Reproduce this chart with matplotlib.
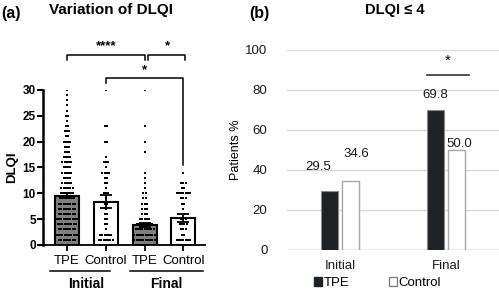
import numpy as np
import matplotlib.pyplot as plt
from matplotlib.patches import Patch

plt.rcParams['font.family'] = ['Liberation Sans', 'DejaVu Sans']

# ---- panel (a) data ----
groups = ['TPE', 'Control', 'TPE', 'Control']
periods = ['Initial', 'Final']
dlqi_mean = [9.5, 8.4, 3.9, 5.2]
dlqi_sem = [0.5, 1.2, 0.35, 0.75]
scores = np.arange(31)
# number of patients at each DLQI score 0..30
tpe_init = [2, 8, 11, 8, 9, 10, 8, 8, 8, 7, 6, 6, 5, 4, 5, 4, 5, 4, 3, 3,
            4, 2, 3, 2, 1, 2, 1, 1, 1, 1, 1]
ctrl_init = [6, 7, 6, 1, 2, 2, 2, 1, 2, 1, 3, 1, 2, 2, 4, 1, 3, 1, 0, 0,
             2, 0, 0, 2, 0, 0, 0, 0, 0, 0, 1]
tpe_final = [4, 10, 10, 9, 8, 5, 3, 3, 3, 2, 2, 1, 1, 1, 1, 0, 0, 0, 1, 0,
             1, 0, 0, 1, 0, 0, 0, 0, 0, 0, 1]
ctrl_final = [4, 7, 2, 3, 4, 3, 2, 1, 2, 3, 7, 2, 3, 0, 1, 0, 0, 0, 0, 0,
              0, 0, 0, 0, 0, 0, 0, 0, 0, 0, 0]
counts = [tpe_init, ctrl_init, tpe_final, ctrl_final]
bar_colors = ['#7f7f7f', 'white', '#7f7f7f', 'white']

# ---- panel (b) data ----
categories = ['Initial', 'Final']
tpe_pct = [29.5, 69.8]
ctrl_pct = [34.6, 50.0]

fig = plt.figure(figsize=(4.99, 2.92), dpi=100)

# panel (a)
ax = fig.add_axes([0.086, 0.161, 0.325, 0.531])
x = np.arange(len(groups))
ax.bar(x, dlqi_mean, width=0.62, color=bar_colors, edgecolor='black', linewidth=1.5, zorder=1)
dx = 0.058
for i, cnt in enumerate(counts):
    for s, n in zip(scores, cnt):
        if n == 0:
            continue
        xs = i + (np.arange(n) - (n - 1) / 2) * dx
        ax.plot(xs, [s] * n, 's', color='black', markersize=1.7, markeredgewidth=0, zorder=2)
ax.errorbar(x, dlqi_mean, yerr=dlqi_sem, fmt='none', ecolor='black', elinewidth=1.3,
            capsize=4, capthick=1.3, zorder=3)
ax.set_xlim(-0.62, 3.56)
ax.set_ylim(0, 30)
ax.set_yticks([0, 5, 10, 15, 20, 25, 30])
ax.set_xticks(x)
ax.set_xticklabels(groups, fontsize=9.5)
ax.tick_params(axis='y', labelsize=8.5, width=1.5, length=4, pad=1)
ax.tick_params(axis='x', width=1.3, length=4, pad=3)
for lab in ax.get_yticklabels():
    lab.set_fontweight('bold')
for sp in ['top', 'right']:
    ax.spines[sp].set_visible(False)
ax.spines['left'].set_linewidth(1.8)
ax.spines['bottom'].set_linewidth(1.3)
ax.set_ylabel('DLQI', fontsize=9.5, fontweight='bold', labelpad=3)

# significance brackets
lk = dict(color='black', lw=1.1, clip_on=False)
ax.plot([0, 0, 2, 2], [35.8, 36.8, 36.8, 35.8], **lk)
ax.text(1, 37.3, '****', ha='center', va='bottom', fontsize=9.5, fontweight='bold')
ax.plot([2.1, 2.1, 3.05, 3.05], [35.8, 36.8, 36.8, 35.8], **lk)
ax.text(2.58, 37.3, '*', ha='center', va='bottom', fontsize=9.5, fontweight='bold')
ax.plot([1, 1, 3, 3], [31.3, 32.3, 32.3, 15.5], **lk)
ax.text(2, 32.7, '*', ha='center', va='bottom', fontsize=9.5, fontweight='bold')

# group underlines
ax.plot([-0.45, 1.12], [-5.0, -5.0], **lk)
ax.plot([1.62, 3.5], [-5.0, -5.0], **lk)
ax.text(0.49, -7.6, periods[0], ha='center', va='center', fontsize=10, fontweight='bold')
ax.text(2.55, -7.6, periods[1], ha='center', va='center', fontsize=10, fontweight='bold')

fig.text(0.002, 0.955, '(a)', fontsize=11.5, fontweight='bold', va='center')
fig.text(0.222, 0.965, 'Variation of DLQI', fontsize=11, fontweight='bold', ha='center', va='center')

# panel (b)
bx = fig.add_axes([0.575, 0.144, 0.425, 0.685])
xc = np.arange(len(categories))
w = 0.16
b1 = bx.bar(xc - 0.103, tpe_pct, width=w, color='#1e2225', edgecolor='#8a8a8a', linewidth=0.8, zorder=2)
b2 = bx.bar(xc + 0.103, ctrl_pct, width=w, color='white', edgecolor='#a6a6a6', linewidth=1.0, zorder=2)
lab_off = [(-8, 13), (4, 15), (0, 7), (2, 0)]
bars = list(b1) + list(b2)
vals = tpe_pct + ctrl_pct
order = [0, 2, 1, 3]
for k, (rect, v) in enumerate(zip(bars, vals)):
    ox, oy = lab_off[order[k]]
    bx.annotate(f'{v:.1f}', (rect.get_x() + rect.get_width() / 2, v), xytext=(ox, oy),
                textcoords='offset points', ha='center', va='bottom', fontsize=9.5, color='#1a1a1a')
bx.set_xlim(-0.5, 1.5)
bx.set_ylim(0, 100)
bx.set_yticks([0, 20, 40, 60, 80, 100])
bx.set_xticks(xc)
bx.set_xticklabels(categories, fontsize=9.5)
bx.tick_params(axis='both', length=0, labelsize=9.5, colors='#1a1a1a')
bx.tick_params(axis='y', pad=14)
bx.tick_params(axis='x', pad=7)
bx.grid(axis='y', color='#d9d9d9', lw=1, zorder=0)
bx.set_axisbelow(True)
for sp in bx.spines.values():
    sp.set_visible(False)
bx.axhline(0, color='#c8c8c8', lw=1, zorder=1)
bx.set_ylabel('Patients %', fontsize=9, labelpad=2)
bx.plot([0.82, 1.22], [87.5, 87.5], color='#333333', lw=1.2)
bx.text(1.02, 91, '*', ha='center', va='bottom', fontsize=11)

handles = [Patch(facecolor='#1e2225', edgecolor='#1e2225'),
           Patch(facecolor='white', edgecolor='#808080')]
fig.legend(handles, ['TPE', 'Control'], loc='center', bbox_to_anchor=(0.756, 0.03), ncol=2,
           frameon=False, fontsize=9.5, handlelength=0.6, handleheight=0.6,
           handletextpad=0.1, columnspacing=3.0, borderpad=0)

fig.text(0.5, 0.955, '(b)', fontsize=11.5, fontweight='bold', va='center')
fig.text(0.792, 0.965, 'DLQI ≤ 4', fontsize=10.5, fontweight='bold', ha='center', va='center')

fig.savefig('out.png', dpi=100)
